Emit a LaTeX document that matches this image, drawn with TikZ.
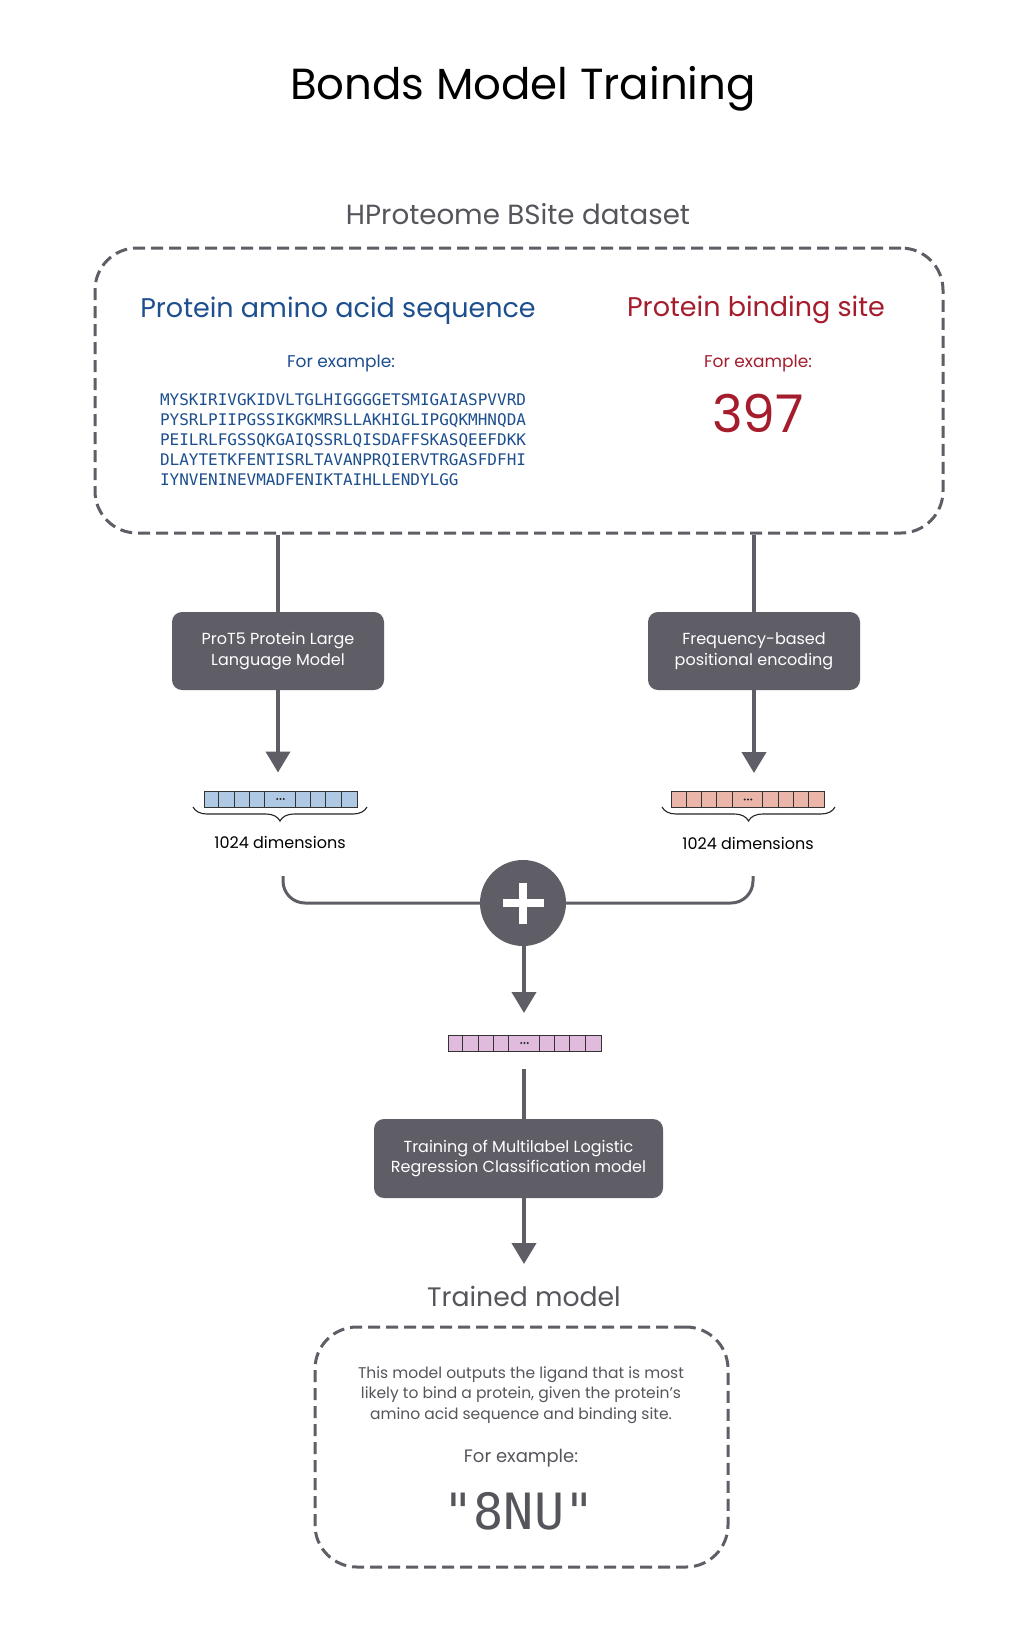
\documentclass[tikz,border=0pt]{standalone}
\usepackage{fontspec}
\setmainfont{Poppins}
\newfontfamily\seqfont{DejaVu Sans Mono}
\usetikzlibrary{arrows.meta,decorations.pathreplacing,calc}
\definecolor{dark}{HTML}{5F5E66}
\definecolor{graytxt}{HTML}{56555C}
\definecolor{bluetxt}{HTML}{1D4F8F}
\definecolor{redtxt}{HTML}{A51D2D}
\definecolor{vblue}{HTML}{AFC9E4}
\definecolor{vred}{HTML}{EBB5AA}
\definecolor{vpurple}{HTML}{E0BBDE}
\tikzset{
  dashbox/.style={draw=dark, line width=3pt, dash pattern=on 12pt off 6pt, rounded corners=42pt},
  darkbox/.style={fill=dark, rounded corners=10pt, text=white, align=center, font=\fontsize{16}{20.5}\selectfont},
  flow/.style={draw=dark, line width=4pt},
  flowarrow/.style={draw=dark, line width=4pt, -{Triangle[width=24pt,length=21pt]}},
  joinline/.style={draw=dark, line width=3pt, rounded corners=22pt},
  vecbox/.style={draw=black!80, line width=1pt, minimum width=153pt, minimum height=16pt, inner sep=0pt},
  brace/.style={decorate, decoration={brace, mirror, amplitude=14pt, raise=0pt}, line width=1.1pt, black!85},
  plain/.style={inner sep=0pt, outer sep=0pt},
}
\newcommand{\cells}[1]{%
  \foreach \k in {1,2,3,4,6,7,8,9}{%
    \draw[black!80, line width=1pt] ($(#1.south west)+(\k*15.3,0)$) -- ($(#1.north west)+(\k*15.3,0)$);}%
  \foreach \d in {-3.2,0,3.2}{%
    \fill[black!85] ($(#1.center)+(\d,0)$) circle (1.1pt);}}
\begin{document}
\begin{tikzpicture}[x=1pt,y=-1pt]
\useasboundingbox[fill=white] (0,0) rectangle (1029,1635);

\node[plain, font=\fontsize{43.5}{48}\selectfont] (title) at (523,89) {Bonds Model Training};
\node[plain, text=graytxt, font=\fontsize{27.7}{32}\selectfont] (dataset) at (518,214) {HProteome BSite dataset};

\node[dashbox, minimum width=848pt, minimum height=285pt] (bigbox) at (519,390.5) {};
\node[plain, text=bluetxt, font=\fontsize{27}{30}\selectfont] (seqtitle) at (338,311) {Protein amino acid sequence};
\node[plain, text=redtxt, font=\fontsize{27}{30}\selectfont] (sitetitle) at (756,310) {Protein binding site};
\node[plain, text=bluetxt, font=\fontsize{17}{20}\selectfont] (ex1) at (341,363) {For example:};
\node[plain, text=redtxt, font=\fontsize{17}{20}\selectfont] (ex2) at (758,363) {For example:};
\node[plain, anchor=west, align=left, text=bluetxt, font=\seqfont\fontsize{16}{20}\selectfont] (seq) at (160,440)
 {MYSKIRIVGKIDVLTGLHIGGGGETSMIGAIASPVVRD\\PYSRLPIIPGSSIKGKMRSLLAKHIGLIPGQKMHNQDA\\PEILRLFGSSQKGAIQSSRLQISDAFFSKASQEEFDKK\\DLAYTETKFENTISRLTAVANPRQIERVTRGASFDFHI\\IYNVENINEVMADFENIKTAIHLLENDYLGG};
\node[plain, text=redtxt, font=\fontsize{52}{56}\selectfont] (num) at (758,413) {397};

\node[darkbox, minimum width=212pt, minimum height=78pt] (prot5) at (278,651) {ProT5 Protein Large\\Language Model};
\node[darkbox, minimum width=212pt, minimum height=78pt] (freq) at (754,651) {Frequency-based\\positional encoding};

\draw[flow] (bigbox.south -| prot5.north) -- (prot5.north);
\draw[flow] (bigbox.south -| freq.north) -- (freq.north);

\node[vecbox, fill=vblue] (vecL) at (280.5,799) {};
\cells{vecL}
\node[vecbox, fill=vred] (vecR) at (748,799.5) {};
\cells{vecR}

\draw[flowarrow, shorten >=18pt] (prot5.south) -- (prot5.south |- vecL.north);
\draw[flowarrow, shorten >=18pt] (freq.south) -- (freq.south |- vecR.north);

\draw[brace] (193,807) -- (367,807);
\draw[brace] (662,807) -- (835,807);
\node[plain, font=\fontsize{16}{20}\selectfont] (dimL) at (280,842) {1024 dimensions};
\node[plain, font=\fontsize{16}{20}\selectfont] (dimR) at (748,843) {1024 dimensions};

\node[circle, fill=dark, minimum size=86pt, inner sep=0pt] (plus) at (523,903) {};
\draw[white, line width=8pt] ($(plus.center)+(-20.5,0)$) -- ($(plus.center)+(20.5,0)$);
\draw[white, line width=8pt] ($(plus.center)+(0,-20.5)$) -- ($(plus.center)+(0,20.5)$);

\coordinate (jl) at (283,876);
\coordinate (jr) at (753,876);
\draw[joinline] (jl) |- (plus.west);
\draw[joinline] (jr) |- (plus.east);

\node[vecbox, fill=vpurple] (vecM) at (524.5,1043) {};
\cells{vecM}
\draw[flowarrow, shorten >=22pt] (plus.south -| 524,0) -- (524,1035);

\node[darkbox, minimum width=289pt, minimum height=79pt] (train) at (518.5,1158.5) {Training of Multilabel Logistic\\Regression Classification model};
\draw[flow] (524,1069) -- (train.north -| 524,0);

\node[plain, text=graytxt, font=\fontsize{26.7}{32}\selectfont] (trained) at (524,1296) {Trained model};
\draw[flowarrow] (train.south -| 524,0) -- (524,1264);

\node[dashbox, minimum width=413pt, minimum height=240pt] (outbox) at (521.5,1447) {};
\node[plain, align=center, text=graytxt, font=\fontsize{15.5}{20.5}\selectfont] (desc) at (521,1395) {This model outputs the ligand that is most\\likely to bind a protein, given the protein's\\amino acid sequence and binding site.};
\node[plain, text=graytxt, font=\fontsize{18}{20}\selectfont] (ex3) at (521,1458) {For example:};
\node[plain, text=graytxt, font=\seqfont\fontsize{50}{54}\selectfont] (ligand) at (519,1511) {"8NU"};
\end{tikzpicture}
\end{document}
